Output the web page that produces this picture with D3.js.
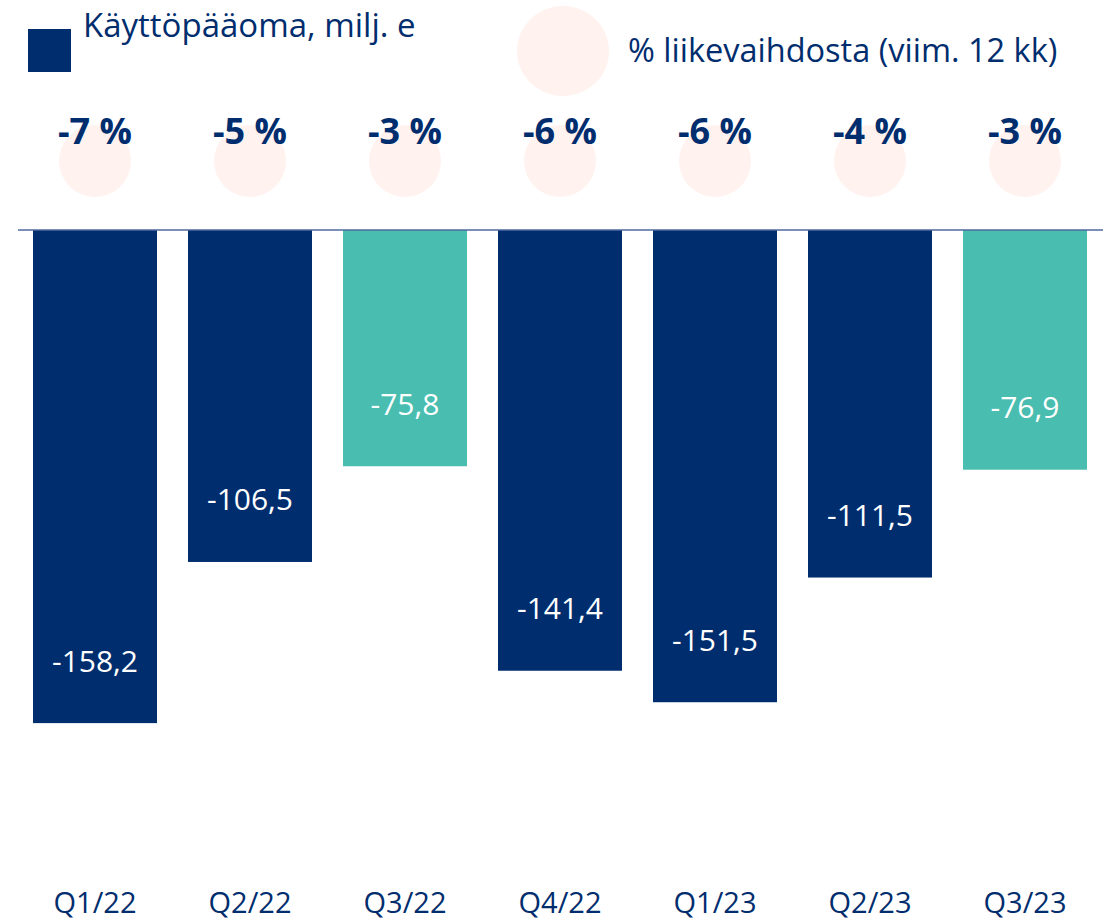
<!DOCTYPE html>
<html>
<head>
<meta charset="utf-8">
<script src="https://cdn.jsdelivr.net/npm/d3@7"></script>
<style>
  body { margin: 0; background: #fff; }
  svg text { font-family: "Open Sans", sans-serif; }
</style>
</head>
<body>
<div class="grafico"></div>
<script>
const quarters = ['Q1/22', 'Q2/22', 'Q3/22', 'Q4/22', 'Q1/23', 'Q2/23', 'Q3/23']
const values = [-158.2, -106.5, -75.8, -141.4, -151.5, -111.5, -76.9]
const pctOfSales = [-7, -5, -3, -6, -6, -4, -3]

const navy = '#002D6E'
const teal = '#48BDB0'
const pink = '#FFF2EF'

const w = 1110
const h = 922

const data = quarters.map((q, i) => ({ q: q, value: values[i], pct: pctOfSales[i] }))

/* escalas */
const xScale = d3.scaleBand()
  .domain(quarters)
  .range([17.5, 1102.5])
  .paddingInner(0.2)
  .paddingOuter(0.1)

const yScale = d3.scaleLinear()
  .domain([0, -200])
  .range([230, 230 + 200 * 3.117])

const fmt = v => v.toFixed(1).replace('.', ',')

const svg = d3.select('.grafico')
  .append('svg')
  .attr('width', w)
  .attr('height', h)

/* leyenda */
svg.append('rect')
  .attr('x', 28).attr('y', 29)
  .attr('width', 43).attr('height', 43)
  .attr('fill', navy)

svg.append('text')
  .attr('x', 83).attr('y', 37)
  .attr('font-size', 33)
  .attr('fill', navy)
  .text('Käyttöpääoma, milj. e')

svg.append('ellipse')
  .attr('cx', 563).attr('cy', 51)
  .attr('rx', 46).attr('ry', 45)
  .attr('fill', pink)

svg.append('text')
  .attr('x', 628).attr('y', 62)
  .attr('font-size', 32.5)
  .attr('fill', navy)
  .text('% liikevaihdosta (viim. 12 kk)')

/* circulos + porcentajes */
svg.append('g')
  .selectAll('ellipse')
  .data(data)
  .enter()
  .append('ellipse')
  .attr('cx', d => xScale(d.q) + xScale.bandwidth() / 2)
  .attr('cy', 161)
  .attr('rx', 36).attr('ry', 36)
  .attr('fill', pink)

svg.append('g')
  .selectAll('text')
  .data(data)
  .enter()
  .append('text')
  .attr('x', d => xScale(d.q) + xScale.bandwidth() / 2)
  .attr('y', 144)
  .attr('text-anchor', 'middle')
  .attr('font-size', 36)
  .attr('font-weight', 'bold')
  .attr('fill', navy)
  .text(d => d.pct + ' %')

/* barras */
svg.append('g')
  .selectAll('rect')
  .data(data)
  .enter()
  .append('rect')
  .attr('x', d => xScale(d.q))
  .attr('y', yScale(0))
  .attr('width', xScale.bandwidth())
  .attr('height', d => yScale(d.value) - yScale(0))
  .attr('fill', d => d.q.startsWith('Q3') ? teal : navy)

svg.append('g')
  .selectAll('text')
  .data(data)
  .enter()
  .append('text')
  .attr('x', d => xScale(d.q) + xScale.bandwidth() / 2)
  .attr('y', d => yScale(d.value) - 62)
  .attr('dy', '0.35em')
  .attr('text-anchor', 'middle')
  .attr('font-size', 30)
  .attr('fill', '#fff')
  .text(d => fmt(d.value))

/* linea base */
svg.append('line')
  .attr('x1', 18).attr('x2', 1103)
  .attr('y1', yScale(0)).attr('y2', yScale(0))
  .attr('stroke', '#4F6A9E')
  .attr('stroke-width', 1.5)

/* eje x */
const xAxis = d3.axisBottom(xScale).tickSize(0).tickPadding(0)
svg.append('g')
  .attr('transform', 'translate(0,892)')
  .call(xAxis)
  .call(g => g.select('.domain').remove())
  .selectAll('text')
  .attr('font-size', 29)
  .attr('fill', navy)
  .attr('dy', '0.71em')
</script>
</body>
</html>
